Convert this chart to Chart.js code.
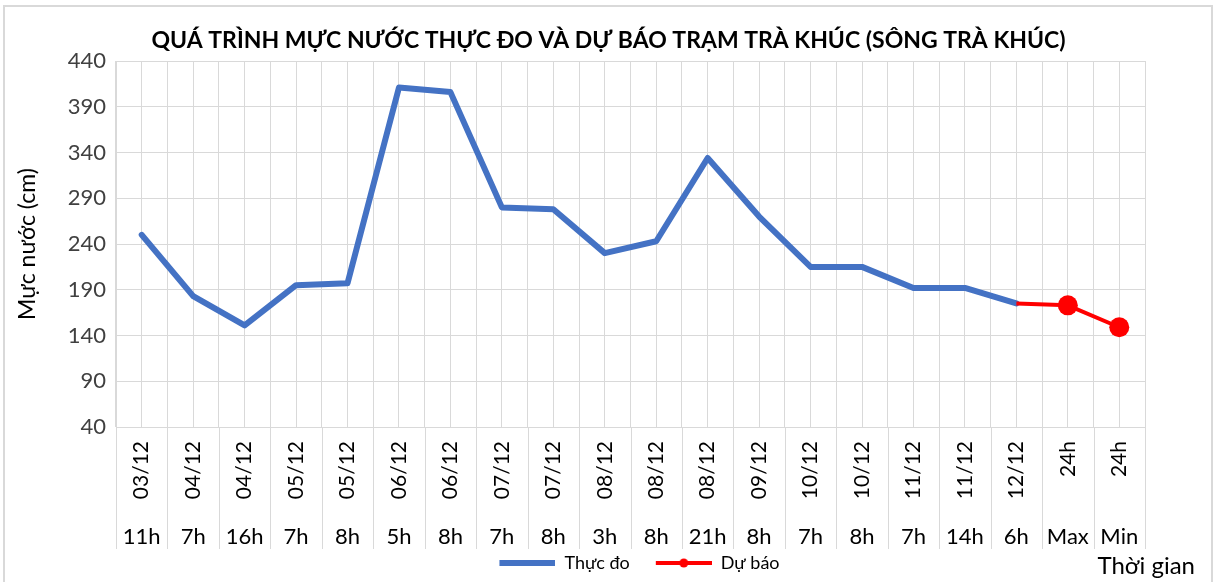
<!DOCTYPE html>
<html>
<head>
<meta charset="utf-8">
<script src="https://cdn.jsdelivr.net/npm/chart.js@4.4.0/dist/chart.umd.min.js"></script>
<style>
  html, body { margin: 0; padding: 0; background: #fff; }
  #wrap { width: 1217px; height: 582px; position: relative; }
</style>
</head>
<body>
<div id="wrap"><canvas id="myChart"></canvas></div>
<script>
// values
const chartTitle = 'QUÁ TRÌNH MỰC NƯỚC THỰC ĐO VÀ DỰ BÁO TRẠM TRÀ KHÚC (SÔNG TRÀ KHÚC)';
const dates = ['03/12', '04/12', '04/12', '05/12', '05/12', '06/12', '06/12', '07/12', '07/12', '08/12',
               '08/12', '08/12', '09/12', '10/12', '10/12', '11/12', '11/12', '12/12', '24h', '24h'];
const hours = ['11h', '7h', '16h', '7h', '8h', '5h', '8h', '7h', '8h', '3h',
               '8h', '21h', '8h', '7h', '8h', '7h', '14h', '6h', 'Max', 'Min'];
const measured = [250, 183, 151, 195, 197, 411, 406, 280, 278, 230,
                  243, 334, 270, 215, 215, 192, 192, 175, null, null];
const forecast = [null, null, null, null, null, null, null, null, null, null,
                  null, null, null, null, null, null, null, 175, 173, 149];
const yMin = 40, yMax = 440, yStep = 50;

const FONT = 'Lato, "Open Sans", sans-serif';
Chart.defaults.font.family = FONT;

const ctx = document.getElementById('myChart');

// small pictures for the legend (line, or line with a dot)
function legendIcon(color, width, dot) {
    const c = document.createElement('canvas');
    c.width = 74; c.height = 14;
    const g = c.getContext('2d');
    g.strokeStyle = color;
    g.lineWidth = width;
    g.beginPath(); g.moveTo(18, 7); g.lineTo(74, 7); g.stroke();
    if (dot) {
        g.fillStyle = color;
        g.beginPath(); g.arc(46, 7, 4.5, 0, Math.PI * 2); g.fill();
    }
    return c;
}
const blueIcon = legendIcon('#4472C4', 6, false);
const redIcon = legendIcon('#FF0000', 4, true);

// frame, title (centred on the whole picture), category separators, axis name
const extras = {
    id: 'extras',
    beforeDraw(chart) {
        const c = chart.ctx;
        c.save();
        c.fillStyle = '#fff';
        c.fillRect(0, 0, chart.width, chart.height);
        c.strokeStyle = '#d9d9d9';
        c.lineWidth = 2;
        c.strokeRect(4, 6, chart.width - 9, chart.height + 10);
        c.restore();
    },
    afterDraw(chart) {
        const c = chart.ctx;
        const x = chart.scales.x, x2 = chart.scales.x2;
        const n = dates.length, w = x.width / n;
        c.save();
        c.strokeStyle = '#d9d9d9';
        c.lineWidth = 1;
        for (let i = 0; i <= n; i++) {
            const px = Math.round(x.left + i * w) + 0.5;
            c.beginPath(); c.moveTo(px, x.top); c.lineTo(px, x2.bottom + 3); c.stroke();
        }
        c.fillStyle = '#000';
        c.textBaseline = 'middle';
        c.font = 'bold 23px ' + FONT;
        c.textAlign = 'center';
        c.fillText(chartTitle, chart.width / 2, 41);
        c.font = '24px ' + FONT;
        c.textAlign = 'right';
        c.fillText('Thời gian', chart.width - 22, chart.legend.top + chart.legend.height / 2 + 2);
        c.restore();
    }
};

new Chart(ctx, {
    type: 'line',
    data: {
        datasets: [{
            label: 'Thực đo',
            data: measured,
            borderColor: '#4472C4',
            backgroundColor: '#4472C4',
            borderWidth: 6,
            pointRadius: 0,
            borderJoinStyle: 'round',
            borderCapStyle: 'round',
            order: 2
        }, {
            label: 'Dự báo',
            data: forecast,
            borderColor: '#FF0000',
            backgroundColor: '#FF0000',
            borderWidth: 4,
            pointRadius: c => c.dataIndex >= 18 ? 10 : 0,
            pointBorderWidth: 0,
            pointBackgroundColor: '#FF0000',
            borderJoinStyle: 'round',
            order: 1
        }]
    },
    options: {
        responsive: true,
        maintainAspectRatio: false,
        animation: false,
        layout: { padding: { left: 6, right: 72, top: 61, bottom: 0 } },
        plugins: {
            title: { display: false },
            legend: {
                position: 'bottom',
                fullSize: false,
                labels: {
                    usePointStyle: true,
                    pointStyleWidth: 74,
                    padding: 8,
                    color: '#000',
                    font: { size: 18 },
                    generateLabels: () => [
                        { text: 'Thực đo', pointStyle: blueIcon, fillStyle: '#4472C4', strokeStyle: '#4472C4', lineWidth: 0, datasetIndex: 0 },
                        { text: 'Dự báo', pointStyle: redIcon, fillStyle: '#FF0000', strokeStyle: '#FF0000', lineWidth: 0, datasetIndex: 1 }
                    ]
                }
            },
            tooltip: { enabled: false }
        },
        scales: {
            x: {
                type: 'category',
                labels: dates,
                offset: true,
                position: 'bottom',
                grid: { offset: true, color: '#d9d9d9', drawTicks: false },
                border: { color: '#d9d9d9' },
                ticks: { autoSkip: false, minRotation: 90, maxRotation: 90, padding: 14, color: '#000', font: { size: 21 } },
                afterFit(s) { s.height = 77; }
            },
            x2: {
                type: 'category',
                labels: hours,
                offset: true,
                position: 'bottom',
                grid: { offset: false, color: '#d9d9d9', drawTicks: false },
                border: { display: false },
                ticks: { autoSkip: false, maxRotation: 0, padding: 20, color: '#000', font: { size: 22 } },
                afterFit(s) { s.height = 42; }
            },
            y: {
                min: yMin,
                max: yMax,
                ticks: { stepSize: yStep, padding: 10, color: '#404040', font: { size: 22 } },
                grid: { color: '#d9d9d9', drawTicks: false },
                border: { color: '#d9d9d9' },
                title: { display: true, text: 'Mực nước (cm)', color: '#000', font: { size: 23 }, padding: { top: 8, bottom: 0 } },
                afterFit(s) { s.width = 110; }
            }
        }
    },
    plugins: [extras]
});
</script>
</body>
</html>
